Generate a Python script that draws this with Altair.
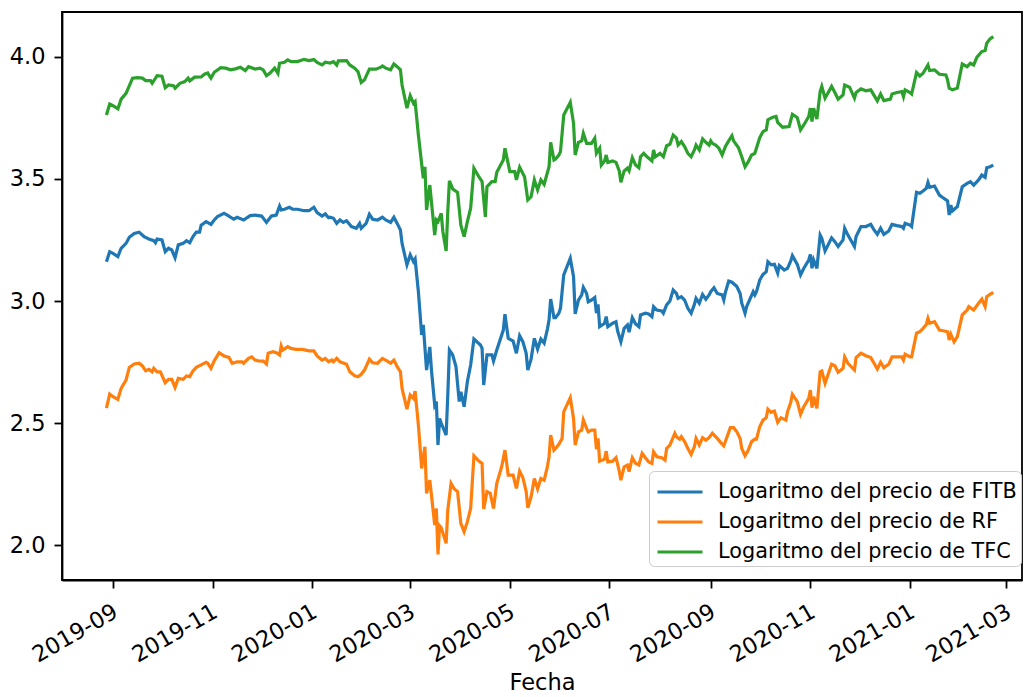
import altair as alt
import pandas as pd

# Daily log-prices, stored as (days since START, log price)
START = pd.Timestamp("2019-09-01")

LABELS = [
    "Logaritmo del precio de FITB",
    "Logaritmo del precio de RF",
    "Logaritmo del precio de TFC",
]
COLORS = ["#1f77b4", "#ff7f0e", "#2ca02c"]

fitb = [(-4,3.161),(-2,3.202),(0,3.195),(3,3.182),(5,3.216),(8,3.236),(10,3.261),(13,3.277),(16,3.282),(19,3.264),(22,3.254),(25,3.247),(26,3.239),(27,3.254),(30,3.250),(32,3.202),(34,3.216),(36,3.209),(38,3.177),(40,3.230),(43,3.236),(45,3.247),(47,3.239),(49,3.264),(51,3.282),(53,3.282),(54,3.311),(57,3.325),(60,3.314),(62,3.332),(64,3.346),(68,3.359),(70,3.352),(74,3.335),(76,3.343),(80,3.332),(84,3.350),(87,3.352),(91,3.348),(94,3.322),(97,3.348),(100,3.352),(102,3.389),(103,3.373),(105,3.376),(108,3.384),(110,3.376),(113,3.376),(117,3.370),(120,3.370),(123,3.384),(125,3.362),(128,3.348),(130,3.357),(132,3.341),(133,3.343),(135,3.339),(137,3.318),(139,3.332),(141,3.322),(143,3.329),(146,3.305),(149,3.298),(151,3.318),(152,3.298),(155,3.318),(157,3.355),(159,3.335),(162,3.332),(165,3.343),(167,3.332),(170,3.322),(172,3.343),(174,3.318),(176,3.291),(177,3.236),(180,3.148),(182,3.189),(184,3.161),(185,3.172),(187,3.038),(189,2.861),(190,2.902),(192,2.717),(194,2.812),(195,2.717),(197,2.574),(198,2.588),(199,2.410),(200,2.519),(201,2.499),(204,2.451),(205,2.615),(206,2.799),(208,2.779),(210,2.731),(212,2.588),(213,2.628),(215,2.567),(217,2.670),(219,2.738),(221,2.844),(225,2.820),(226,2.806),(227,2.656),(229,2.779),(232,2.779),(233,2.754),(235,2.799),(239,2.881),(240,2.946),(242,2.847),(245,2.836),(247,2.786),(249,2.858),(251,2.833),(253,2.786),(254,2.717),(256,2.762),(258,2.847),(260,2.803),(262,2.844),(264,2.827),(266,2.885),(267,2.922),(268,3.008),(270,2.932),(271,2.932),(273,2.950),(274,2.970),(276,3.107),(280,3.175),(282,3.100),(283,2.947),(285,3.004),(287,3.025),(288,3.056),(290,3.031),(291,2.997),(293,3.004),(295,3.014),(296,2.950),(297,2.986),(298,2.895),(301,2.909),(302,2.936),(303,2.895),(306,2.909),(308,2.915),(309,2.877),(311,2.833),(313,2.888),(315,2.902),(316,2.872),(318,2.932),(320,2.906),(322,2.895),(323,2.943),(326,2.950),(328,2.947),(330,2.936),(331,2.977),(333,2.963),(336,2.959),(337,2.950),(339,2.984),(341,3.000),(343,3.045),(345,3.031),(346,3.011),(348,3.018),(350,3.004),(352,2.970),(354,2.950),(356,2.986),(357,3.011),(359,2.991),(361,3.027),(363,3.007),(365,3.025),(366,3.038),(368,3.054),(370,3.031),(373,3.025),(374,3.004),(375,3.036),(377,3.082),(379,3.077),(382,3.059),(384,3.031),(385,2.991),(387,2.950),(388,2.977),(390,3.008),(392,3.038),(393,3.025),(394,3.038),(396,3.086),(398,3.109),(400,3.120),(401,3.161),(403,3.148),(405,3.150),(407,3.114),(408,3.145),(411,3.127),(413,3.134),(415,3.164),(416,3.186),(419,3.150),(421,3.107),(423,3.134),(426,3.168),(427,3.191),(428,3.134),(429,3.168),(431,3.134),(433,3.270),(434,3.257),(436,3.205),(440,3.259),(442,3.243),(444,3.223),(447,3.250),(448,3.298),(450,3.270),(454,3.223),(455,3.264),(458,3.305),(461,3.305),(464,3.314),(466,3.291),(468,3.273),(470,3.298),(472,3.273),(475,3.287),(477,3.314),(480,3.309),(483,3.305),(484,3.298),(485,3.318),(488,3.311),(489,3.305),(492,3.445),(494,3.441),(496,3.451),(498,3.462),(499,3.486),(500,3.466),(503,3.471),(506,3.434),(508,3.424),(511,3.410),(512,3.352),(513,3.393),(514,3.369),(517,3.387),(520,3.468),(523,3.482),(525,3.489),(527,3.475),(530,3.496),(532,3.516),(534,3.507),(535,3.546),(537,3.550),(539,3.557)]

rf = [(-4,2.561),(-2,2.619),(0,2.608),(3,2.597),(5,2.642),(8,2.676),(10,2.728),(13,2.742),(16,2.745),(18,2.734),(20,2.714),(22,2.720),(24,2.710),(25,2.724),(27,2.710),(29,2.710),(32,2.665),(34,2.679),(36,2.679),(38,2.646),(40,2.683),(43,2.679),(45,2.693),(47,2.690),(49,2.713),(51,2.728),(54,2.738),(57,2.749),(58,2.745),(60,2.724),(62,2.755),(65,2.788),(68,2.775),(71,2.769),(73,2.745),(76,2.751),(79,2.751),(80,2.745),(83,2.765),(85,2.771),(87,2.758),(89,2.755),(92,2.754),(94,2.742),(95,2.786),(98,2.792),(100,2.788),(102,2.779),(103,2.816),(104,2.799),(107,2.813),(109,2.806),(112,2.802),(116,2.802),(120,2.796),(123,2.796),(125,2.775),(128,2.758),(130,2.765),(132,2.751),(134,2.758),(135,2.751),(137,2.765),(139,2.751),(143,2.741),(145,2.710),(148,2.694),(150,2.690),(152,2.700),(154,2.717),(157,2.762),(159,2.747),(162,2.745),(165,2.765),(168,2.754),(170,2.745),(172,2.758),(174,2.731),(176,2.710),(177,2.642),(180,2.557),(182,2.615),(184,2.601),(185,2.631),(187,2.492),(189,2.314),(191,2.403),(192,2.212),(194,2.266),(195,2.205),(197,2.082),(198,2.150),(199,1.962),(200,2.079),(201,2.071),(204,2.007),(205,2.143),(207,2.253),(209,2.230),(211,2.219),(213,2.089),(215,2.055),(217,2.096),(219,2.150),(221,2.366),(224,2.344),(226,2.335),(227,2.148),(229,2.219),(231,2.212),(233,2.150),(235,2.253),(238,2.321),(240,2.389),(242,2.287),(245,2.287),(247,2.232),(249,2.303),(251,2.276),(253,2.219),(254,2.153),(256,2.198),(258,2.273),(260,2.230),(262,2.273),(264,2.266),(266,2.321),(267,2.362),(268,2.451),(270,2.389),(271,2.396),(273,2.413),(275,2.437),(276,2.546),(280,2.604),(282,2.519),(283,2.410),(285,2.464),(287,2.471),(288,2.512),(290,2.478),(291,2.464),(293,2.471),(295,2.471),(296,2.393),(297,2.437),(298,2.344),(301,2.352),(302,2.385),(303,2.341),(306,2.344),(308,2.358),(310,2.303),(311,2.266),(313,2.321),(315,2.328),(316,2.301),(318,2.358),(320,2.335),(322,2.328),(324,2.376),(326,2.358),(328,2.341),(330,2.335),(331,2.382),(333,2.362),(336,2.358),(338,2.348),(339,2.396),(341,2.410),(344,2.458),(345,2.444),(347,2.434),(348,2.444),(350,2.424),(352,2.396),(354,2.372),(356,2.403),(357,2.437),(359,2.410),(361,2.440),(363,2.430),(365,2.440),(367,2.458),(370,2.437),(372,2.421),(374,2.407),(376,2.444),(378,2.481),(380,2.481),(382,2.464),(384,2.437),(385,2.396),(387,2.366),(389,2.389),(391,2.424),(393,2.434),(394,2.434),(396,2.485),(398,2.512),(400,2.522),(401,2.557),(403,2.544),(405,2.549),(407,2.503),(409,2.522),(412,2.512),(413,2.546),(415,2.585),(416,2.618),(419,2.588),(421,2.536),(423,2.567),(426,2.601),(427,2.635),(428,2.563),(429,2.608),(431,2.560),(433,2.710),(434,2.713),(436,2.663),(440,2.741),(442,2.735),(444,2.708),(447,2.724),(448,2.771),(450,2.745),(454,2.717),(455,2.768),(458,2.786),(461,2.776),(464,2.768),(466,2.745),(468,2.721),(470,2.749),(472,2.727),(475,2.741),(477,2.771),(480,2.771),(483,2.771),(484,2.758),(485,2.782),(488,2.771),(489,2.771),(492,2.868),(494,2.874),(496,2.888),(498,2.904),(499,2.929),(500,2.909),(503,2.915),(506,2.881),(509,2.877),(511,2.874),(512,2.840),(513,2.864),(515,2.833),(517,2.854),(520,2.943),(523,2.963),(524,2.977),(527,2.963),(530,2.991),(532,3.008),(534,2.977),(535,3.018),(537,3.027),(539,3.035)]

tfc = [(-4,3.762),(-2,3.807),(0,3.800),(3,3.787),(5,3.827),(8,3.851),(12,3.913),(15,3.915),(18,3.913),(20,3.903),(23,3.903),(24,3.892),(27,3.923),(30,3.921),(32,3.874),(34,3.885),(37,3.882),(38,3.872),(41,3.892),(44,3.899),(46,3.913),(47,3.902),(50,3.917),(54,3.918),(56,3.929),(58,3.934),(60,3.913),(62,3.937),(66,3.956),(69,3.954),(72,3.947),(75,3.951),(78,3.958),(81,3.944),(83,3.960),(87,3.950),(90,3.954),(92,3.947),(94,3.923),(96,3.933),(99,3.954),(101,3.933),(102,3.974),(105,3.978),(107,3.988),(109,3.981),(113,3.981),(117,3.990),(120,3.985),(123,3.989),(125,3.977),(128,3.967),(130,3.978),(133,3.975),(135,3.981),(137,3.967),(138,3.984),(143,3.985),(145,3.967),(148,3.954),(150,3.940),(152,3.895),(154,3.906),(157,3.950),(161,3.950),(164,3.958),(165,3.963),(167,3.954),(170,3.947),(172,3.971),(174,3.960),(176,3.947),(177,3.885),(180,3.790),(182,3.841),(184,3.810),(185,3.817),(187,3.680),(190,3.503),(191,3.550),(192,3.373),(194,3.475),(197,3.270),(198,3.332),(199,3.325),(201,3.359),(202,3.284),(204,3.205),(205,3.366),(206,3.492),(208,3.459),(211,3.445),(213,3.311),(215,3.264),(217,3.325),(219,3.380),(221,3.544),(224,3.509),(226,3.489),(228,3.345),(229,3.468),(232,3.489),(234,3.489),(235,3.527),(239,3.578),(240,3.626),(243,3.530),(246,3.530),(247,3.496),(249,3.548),(252,3.509),(254,3.414),(256,3.427),(258,3.496),(260,3.455),(262,3.496),(264,3.478),(267,3.550),(268,3.650),(270,3.578),(271,3.582),(273,3.598),(274,3.612),(276,3.762),(280,3.814),(282,3.728),(283,3.598),(285,3.650),(287,3.656),(288,3.687),(290,3.646),(293,3.646),(295,3.667),(296,3.605),(298,3.626),(299,3.557),(301,3.574),(302,3.598),(303,3.568),(306,3.574),(308,3.568),(310,3.533),(311,3.486),(313,3.533),(315,3.544),(316,3.533),(318,3.587),(320,3.557),(322,3.546),(323,3.591),(325,3.605),(327,3.591),(330,3.574),(331,3.619),(332,3.591),(335,3.605),(337,3.591),(339,3.636),(341,3.642),(343,3.680),(345,3.667),(346,3.639),(348,3.653),(350,3.633),(352,3.605),(354,3.591),(356,3.619),(357,3.639),(359,3.619),(361,3.664),(363,3.650),(365,3.639),(366,3.656),(367,3.646),(369,3.639),(371,3.626),(373,3.598),(375,3.633),(377,3.656),(379,3.677),(380,3.656),(383,3.628),(385,3.591),(387,3.550),(389,3.571),(391,3.598),(393,3.605),(396,3.669),(398,3.694),(400,3.701),(401,3.742),(404,3.753),(406,3.756),(407,3.732),(410,3.712),(414,3.715),(416,3.765),(418,3.756),(419,3.751),(421,3.701),(423,3.721),(426,3.756),(427,3.790),(428,3.735),(429,3.790),(431,3.745),(433,3.858),(434,3.879),(436,3.831),(440,3.879),(442,3.854),(444,3.827),(447,3.844),(448,3.885),(451,3.876),(454,3.831),(455,3.854),(458,3.869),(461,3.861),(464,3.865),(467,3.831),(468,3.820),(470,3.848),(472,3.821),(476,3.827),(477,3.848),(480,3.854),(483,3.858),(484,3.837),(485,3.865),(488,3.854),(489,3.848),(492,3.936),(494,3.922),(496,3.933),(499,3.967),(500,3.944),(503,3.947),(506,3.929),(510,3.926),(511,3.906),(512,3.872),(514,3.865),(517,3.872),(520,3.971),(523,3.960),(525,3.974),(527,3.967),(529,3.999),(532,4.022),(534,4.026),(535,4.056),(537,4.074),(539,4.083)]

X_TICKS = [(2019, 9), (2019, 11), (2020, 1), (2020, 3), (2020, 5), (2020, 7),
           (2020, 9), (2020, 11), (2021, 1), (2021, 3)]
Y_TICKS = [2.0, 2.5, 3.0, 3.5, 4.0]

rows = []
for label, series in zip(LABELS, [fitb, rf, tfc]):
    for d, v in series:
        rows.append({"Fecha": START + pd.Timedelta(days=d), "valor": v, "serie": label})
df = pd.DataFrame(rows)

x_domain = [alt.DateTime(year=2019, month=7, date=31, hours=19),
            alt.DateTime(year=2021, month=3, date=10, hours=14)]

chart = (
    alt.Chart(df)
    .mark_line(strokeWidth=3.2)
    .encode(
        x=alt.X(
            "Fecha:T",
            scale=alt.Scale(domain=x_domain),
            axis=alt.Axis(
                values=[alt.DateTime(year=y, month=m, date=1) for y, m in X_TICKS],
                format="%Y-%m",
                labelAngle=330,
                labelAlign="right",
                labelBaseline="top",
                labelOffset=-3,
                labelPadding=12,
                title="Fecha",
                titlePadding=5,
                grid=False,
            ),
        ),
        y=alt.Y(
            "valor:Q",
            scale=alt.Scale(domain=[1.857, 4.184], nice=False, zero=False),
            axis=alt.Axis(values=Y_TICKS, format=".1f", title=None, grid=False,
                          labelPadding=9),
        ),
        color=alt.Color(
            "serie:N",
            scale=alt.Scale(domain=LABELS, range=COLORS),
            legend=alt.Legend(
                title=None,
                orient="none",
                legendX=587,
                legendY=459,
                fillColor="white",
                strokeColor="#cccccc",
                cornerRadius=5,
                padding=4,
                # horizontal stroke, 1.5x the symbol radius on each side
                symbolType="M-1.5,0H1.5",
                symbolSize=900,
                symbolOffset=10,
                symbolStrokeWidth=3.2,
                labelFontSize=20.8,
                labelOffset=21,
                labelLimit=400,
                rowPadding=3,
            ),
        ),
    )
    .properties(
        width=960,
        height=568,
        autosize=alt.AutoSizeParams(type="none"),
        padding={"left": 62, "top": 12, "right": 2, "bottom": 117},
    )
    .configure(font="DejaVu Sans")
    .configure_view(stroke="black", strokeWidth=1.8)
    .configure_axis(
        labelFont="DejaVu Sans",
        labelFontSize=22.5,
        labelColor="black",
        titleFont="DejaVu Sans",
        titleFontSize=22.5,
        titleFontWeight="normal",
        titleColor="black",
        domainColor="black",
        domainWidth=1.8,
        tickColor="black",
        tickWidth=1.8,
        tickSize=8,
    )
    .configure_legend(labelFont="DejaVu Sans", labelColor="black")
)

chart.save("out.html", embed_options={"renderer": "svg", "actions": False})
